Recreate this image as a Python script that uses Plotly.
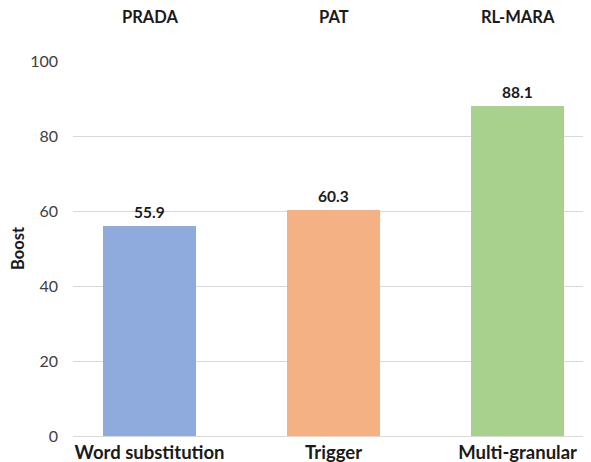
import plotly.graph_objects as go

# chart data
attack_types = ["Word substitution", "Trigger", "Multi-granular"]
methods = ["PRADA", "PAT", "RL-MARA"]
boost = [55.9, 60.3, 88.1]
bar_colors = ["#8FAADC", "#F4B183", "#A9D18E"]

font_family = "Lato, 'Open Sans', Arial, sans-serif"
xpos = list(range(len(attack_types)))

fig = go.Figure()
fig.add_trace(go.Bar(
    x=xpos,
    y=boost,
    width=0.505,
    marker=dict(color=bar_colors, line=dict(width=0)),
    showlegend=False,
    hovertemplate="%{y:.1f}<extra></extra>",
))

# value labels just above each bar
for i, v in enumerate(boost):
    fig.add_annotation(
        x=i, y=v, xref="x", yref="y", yanchor="bottom", yshift=3,
        text=f"<b>{v:.1f}</b>", showarrow=False,
        font=dict(family=font_family, size=15.5, color="#1a1a1a"),
    )

# method names above each bar column
for i, m in enumerate(methods):
    fig.add_annotation(
        x=i, y=1, xref="x", yref="paper", yanchor="middle",
        yshift=44, text=f"<b>{m}</b>", showarrow=False,
        font=dict(family=font_family, size=16.5, color="#1a1a1a"),
    )

# page body has an 8px margin, so the figure is sized to fit the window
fig.update_layout(
    width=583, height=454,
    margin=dict(l=65, r=0, t=53, b=26),
    plot_bgcolor="white", paper_bgcolor="white",
    bargap=0,
)
fig.update_xaxes(
    range=[-0.416, 2.399],
    tickvals=xpos,
    ticktext=[f"<b>{a}</b>" for a in attack_types],
    tickfont=dict(family=font_family, size=18.5, color="#1a1a1a"),
    showgrid=False, zeroline=False,
    showline=True, linecolor="#d9d9d9", linewidth=1,
    ticks="", ticklabelstandoff=0,
)
fig.update_yaxes(
    range=[0, 100], dtick=20,
    showgrid=True, gridcolor="#d9d9d9", gridwidth=1,
    zeroline=False, showline=False,
    tickfont=dict(family=font_family, size=16, color="#404040"),
    ticklabelstandoff=14,
    title=dict(text="<b>Boost</b>", font=dict(family=font_family, size=16.5, color="#1a1a1a"), standoff=12),
)

fig.write_html("out.html")
